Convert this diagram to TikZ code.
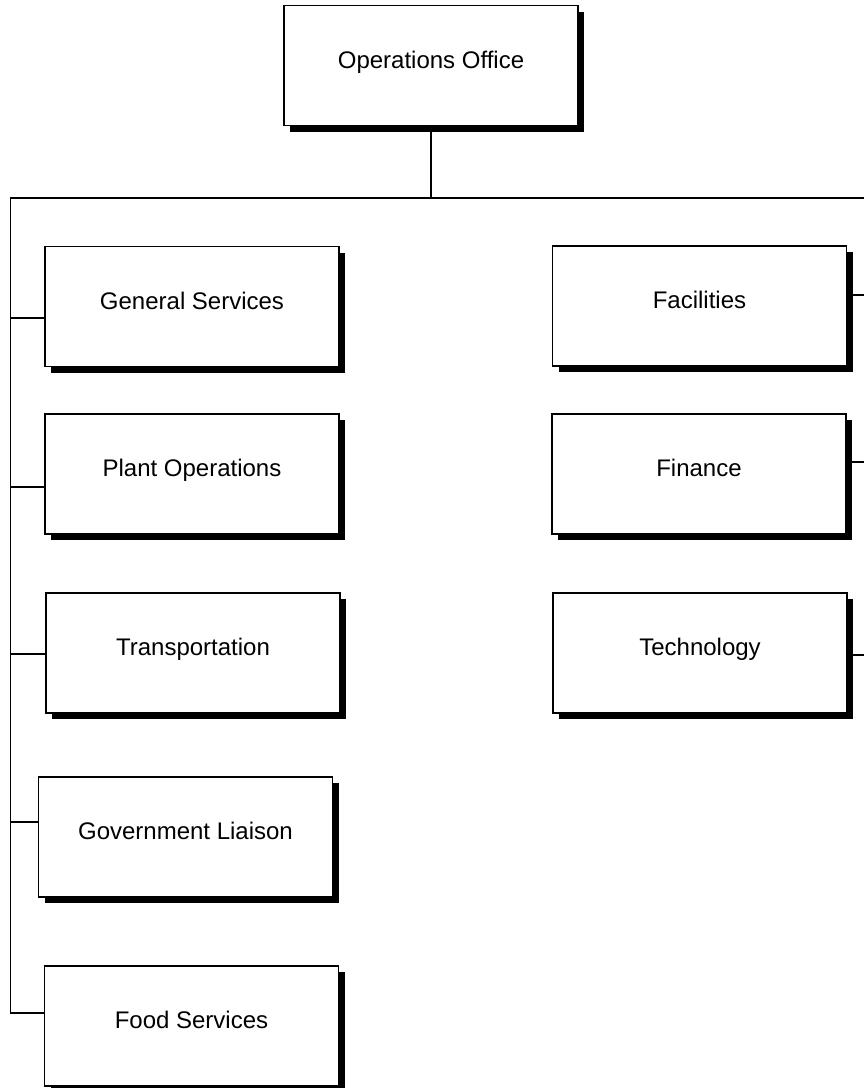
\documentclass[tikz,border=0pt]{standalone}
\usepackage{fontspec}
\setmainfont{Liberation Sans}
\usetikzlibrary{shadows}

\tikzset{
  unitbox/.style={
    draw=black, fill=white, line width=1.5pt,
    minimum width=294pt, minimum height=120pt,
    inner sep=0pt, outer sep=0pt,
    text height=17pt, text depth=12pt,
    font=\fontsize{24}{28}\selectfont,
    drop shadow={shadow xshift=6pt, shadow yshift=-6pt, fill=black, opacity=1}
  },
  link/.style={draw=black, line width=1.6pt}
}

\begin{document}
\begin{tikzpicture}[x=1pt, y=-1pt]
  \useasboundingbox (0,0) rectangle (864,1088);

  % head office
  \node[unitbox] (oo) at (431,65.5) {Operations Office};

  % left column
  \node[unitbox] (gs) at (192,306.5) {General Services};
  \node[unitbox] (po) at (192,474)   {Plant Operations};
  \node[unitbox] (tr) at (193,653)   {Transportation};
  \node[unitbox] (gl) at (185.5,837) {Government Liaison};
  \node[unitbox] (fs) at (191.5,1026) {Food Services};

  % right column
  \node[unitbox] (fa) at (699.5,306) {Facilities};
  \node[unitbox] (fi) at (699,474)   {Finance};
  \node[unitbox] (te) at (700,653)   {Technology};

  % bus and branch points
  \coordinate (busL) at (10.5,198);
  \coordinate (busR) at (864,198);
  \coordinate (cgs) at (10.5,318);
  \coordinate (cpo) at (10.5,487);
  \coordinate (ctr) at (10.5,654);
  \coordinate (cgl) at (10.5,822);
  \coordinate (cfs) at (10.5,1013);
  \coordinate (cfa) at (864,295);
  \coordinate (cfi) at (864,462);
  \coordinate (cte) at (864,655);

  % connectors
  \draw[link] (oo.south) -- (oo.south |- busL);
  \draw[link] (busR) -- (busL) -- (cfs) -- (cfs -| fs.west);
  \draw[link] (cgs) -- (cgs -| gs.west);
  \draw[link] (cpo) -- (cpo -| po.west);
  \draw[link] (ctr) -- (ctr -| tr.west);
  \draw[link] (cgl) -- (cgl -| gl.west);
  \draw[link] (cfa) -- (cfa -| fa.east);
  \draw[link] (cfi) -- (cfi -| fi.east);
  \draw[link] (cte) -- (cte -| te.east);
\end{tikzpicture}
\end{document}
